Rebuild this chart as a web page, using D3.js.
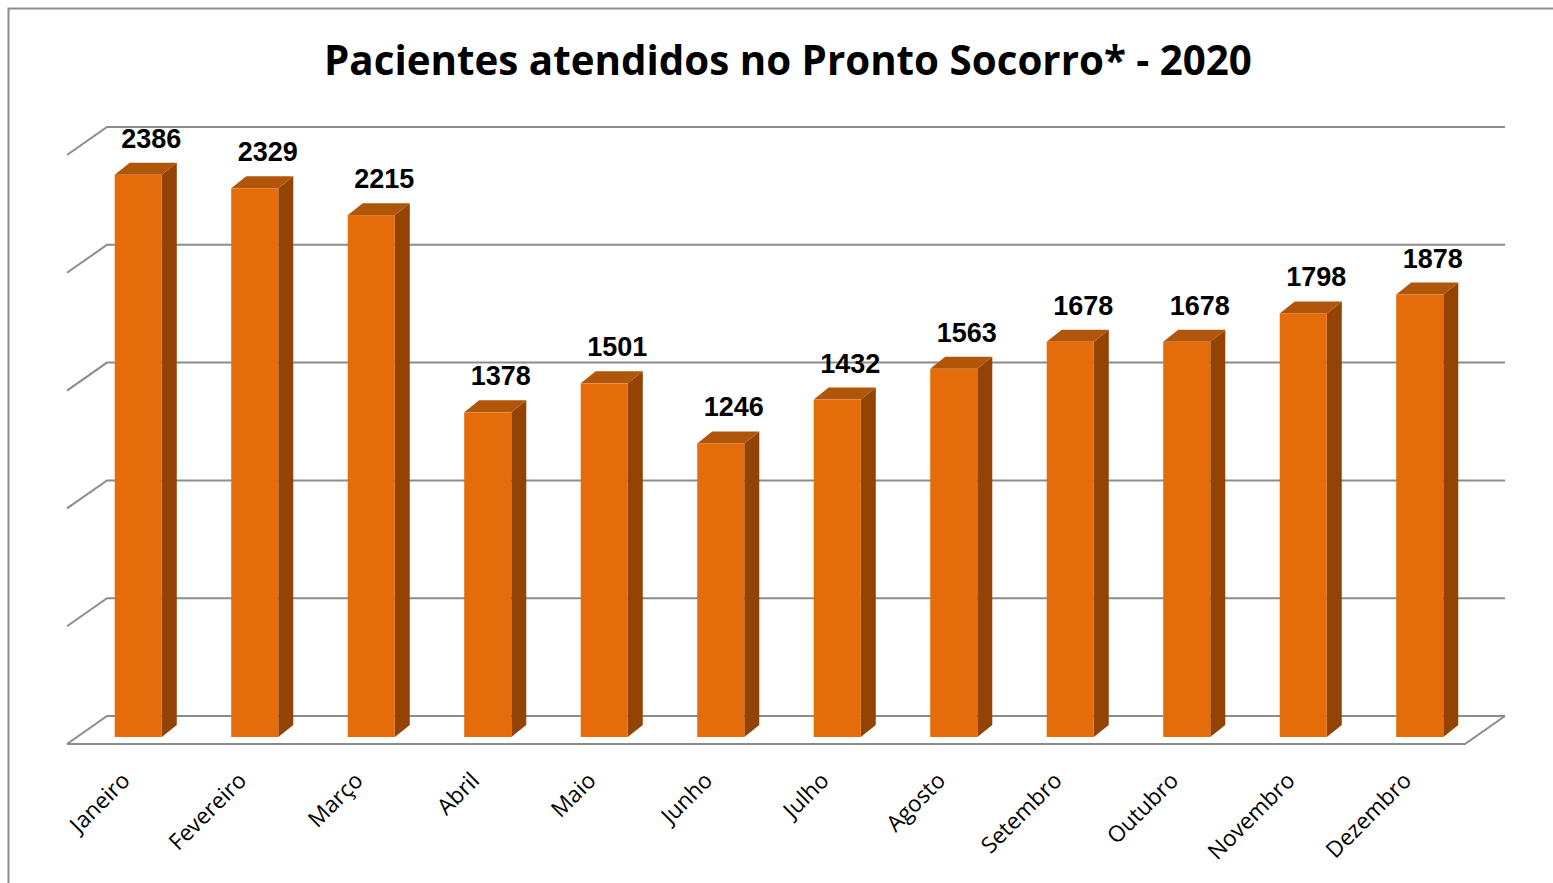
<!DOCTYPE html>
<html lang="pt">
<head>
<meta charset="UTF-8">
<title>Pacientes atendidos no Pronto Socorro - 2020</title>
<script src="https://cdn.jsdelivr.net/npm/d3@7"></script>
<style>
  body { margin: 0; background: #fff; }
  .title { font-family: "Open Sans", sans-serif; font-weight: bold; font-size: 40.3px; text-anchor: middle; }
  .value { font-family: "Liberation Sans", Arial, sans-serif; font-weight: bold; font-size: 27px; text-anchor: middle; }
  .month { font-family: "Open Sans", sans-serif; font-size: 22.5px; text-anchor: end; }
</style>
</head>
<body>
<svg id="chart" width="1553" height="883"></svg>
<script>
const months = ["Janeiro", "Fevereiro", "Março", "Abril", "Maio", "Junho",
                "Julho", "Agosto", "Setembro", "Outubro", "Novembro", "Dezembro"];
const patients = [2386, 2329, 2215, 1378, 1501, 1246, 1432, 1563, 1678, 1678, 1798, 1878];
const gridTicks = [0, 500, 1000, 1500, 2000, 2500];

const svg = d3.select("#chart");

// chart frame
svg.append("rect")
  .attr("x", 8.5).attr("y", 8.5)
  .attr("width", 1600).attr("height", 1000)
  .attr("fill", "#fff")
  .attr("stroke", "#8c8c8c").attr("stroke-width", 2);

svg.append("text")
  .attr("class", "title")
  .attr("x", 788).attr("y", 75)
  .text("Pacientes atendidos no Pronto Socorro* - 2020");

// 3d box geometry
const floorY = 744, depthX = 40, depthY = -28;
const barDx = 15, barDy = -12;
const barShiftX = 13, barBottom = 737;
const pxPerUnit = 0.2356;

const x = d3.scaleBand()
  .domain(months)
  .range([67, 1465])
  .paddingInner(0.596)
  .paddingOuter(0.298);

const yWall = d3.scaleLinear()
  .domain([0, 2500])
  .range([floorY + depthY, floorY + depthY - 2500 * pxPerUnit]);

const yBar = d3.scaleLinear()
  .domain([0, 2500])
  .range([barBottom, barBottom - 2500 * pxPerUnit]);

const gridColor = "#8c8c8c";
const grid = svg.append("g").attr("stroke", gridColor).attr("stroke-width", 2).attr("fill", "none");

// back wall gridlines + left wall diagonals
gridTicks.forEach(t => {
  const yb = yWall(t);
  grid.append("path")
    .attr("d", `M${67},${yb - depthY}L${67 + depthX},${yb}L${1465 + depthX},${yb}`);
});

// floor front edge
grid.append("path")
  .attr("d", `M67,${floorY}L1465,${floorY}L${1465 + depthX},${floorY + depthY}`);

// bars
const bars = svg.append("g").selectAll("g")
  .data(months.map((m, i) => ({ month: m, value: patients[i] })))
  .join("g");

bars.append("path") // side
  .attr("fill", "#934405")
  .attr("d", d => {
    const x1 = x(d.month) + barShiftX + x.bandwidth();
    const yt = yBar(d.value), yb = yBar(0);
    return `M${x1},${yt}L${x1 + barDx},${yt + barDy}L${x1 + barDx},${yb + barDy}L${x1},${yb}Z`;
  });

bars.append("path") // top
  .attr("fill", "#B0560A")
  .attr("d", d => {
    const x0 = x(d.month) + barShiftX, x1 = x0 + x.bandwidth();
    const yt = yBar(d.value);
    return `M${x0},${yt}L${x0 + barDx},${yt + barDy}L${x1 + barDx},${yt + barDy}L${x1},${yt}Z`;
  });

bars.append("rect") // front
  .attr("fill", "#E46C0A")
  .attr("x", d => x(d.month) + barShiftX)
  .attr("y", d => yBar(d.value))
  .attr("width", x.bandwidth())
  .attr("height", d => yBar(0) - yBar(d.value));

bars.append("text")
  .attr("class", "value")
  .attr("x", d => x(d.month) + barShiftX + x.bandwidth() / 2 + 13)
  .attr("y", d => yBar(d.value) + barDy - 15)
  .text(d => d.value);

// month labels
svg.append("g").selectAll("text")
  .data(months)
  .join("text")
  .attr("class", "month")
  .attr("transform", d => `translate(${x(d) + barShiftX + x.bandwidth() / 2 - 7},${782}) rotate(-45)`)
  .text(d => d);
</script>
</body>
</html>
